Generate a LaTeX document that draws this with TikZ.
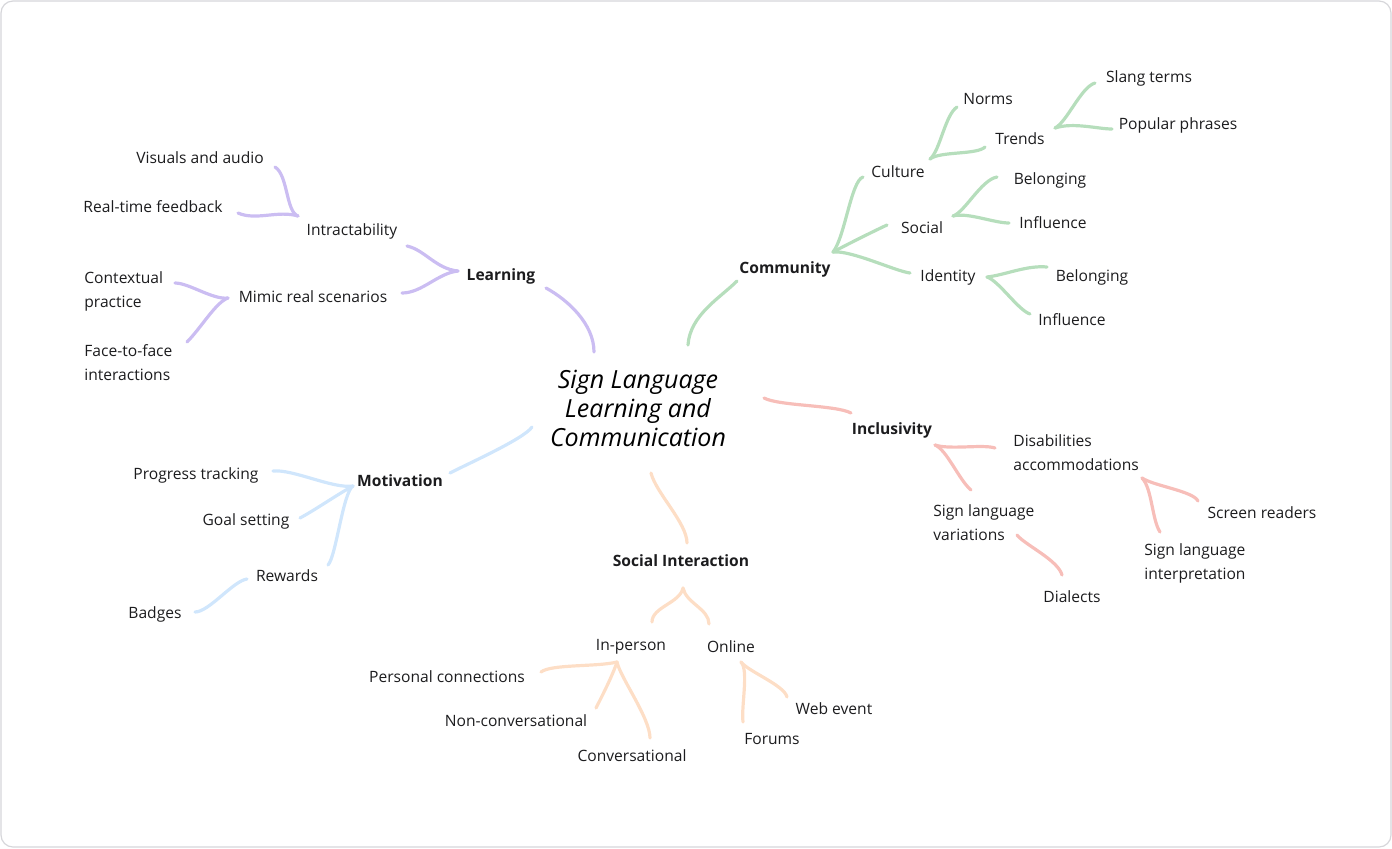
\documentclass[tikz,border=0pt]{standalone}
\usepackage{fontspec}
\setmainfont{Open Sans}
\definecolor{inkblack}{RGB}{28, 28, 30}
\definecolor{framegray}{RGB}{214, 214, 218}
\definecolor{lrnpurple}{RGB}{203, 189, 242}
\definecolor{comgreen}{RGB}{182, 222, 188}
\definecolor{incpink}{RGB}{247, 190, 185}
\definecolor{motblue}{RGB}{208, 230, 252}
\definecolor{socpeach}{RGB}{253, 222, 198}

\begin{document}
\begin{tikzpicture}[x=0.5pt, y=-0.5pt,
                leaf/.style={inner sep=0pt, text=inkblack, yshift=-1.3pt,
                font=\fontsize{7.8}{12}\selectfont},
                topic/.style={leaf, font=\fontsize{7.8}{12}\selectfont\bfseries},
                multi/.style={leaf, align=left, anchor=west},
                branch/.style={line width=1.6pt, line cap=round},
                lrn/.style={branch, draw=lrnpurple},
                com/.style={branch, draw=comgreen},
                inc/.style={branch, draw=incpink},
                mot/.style={branch, draw=motblue},
                soc/.style={branch, draw=socpeach}]
                \useasboundingbox (0,0) rectangle (1392,848);
                \draw[framegray, line width=0.6pt, rounded corners=6pt]
                    (1,1) rectangle (1391,847);
                % centre
                \node[leaf, align=center, text=black,
                      font=\fontsize{12.5}{14.5}\selectfont\itshape] (root) at (638,406)
                    {Sign Language\\Learning and\\Communication};
                % Learning
                \node[topic] (learn) at (501,274) {Learning};
                \node[leaf] (intra) at (352,229) {Intractability};
                \node[leaf] (visual) at (200,155) {Visuals and audio};
                \node[leaf] (rtfeed) at (153,204) {Real-time feedback};
                \node[leaf] (mimic) at (313,294) {Mimic real scenarios};
                \node[multi] (context) at (84,289) {Contextual\\practice};
                \node[multi] (facetf) at (84,360) {Face-to-face\\interactions};
                % Community
                \node[topic] (comm) at (785,267) {Community};
                \node[leaf] (culture) at (898,169) {Culture};
                \node[leaf] (norms) at (988,96) {Norms};
                \node[leaf] (trends) at (1020,136) {Trends};
                \node[leaf] (slang) at (1149,76) {Slang terms};
                \node[leaf] (popular) at (1178,123) {Popular phrases};
                \node[leaf] (social) at (922,225) {Social};
                \node[leaf] (belongA) at (1050,178) {Belonging};
                \node[leaf] (inflA) at (1053,220) {Influence};
                \node[leaf] (ident) at (948,275) {Identity};
                \node[leaf] (belongB) at (1092,275) {Belonging};
                \node[leaf] (inflB) at (1072,317) {Influence};
                % Inclusivity
                \node[topic] (incl) at (892,428) {Inclusivity};
                \node[multi] (disab) at (1013,450) {Disabilities\\accommodations};
                \node[multi] (vari) at (933,520) {Sign language\\variations};
                \node[leaf] (dialect) at (1072,594) {Dialects};
                \node[leaf] (screen) at (1262,510) {Screen readers};
                \node[multi] (interp) at (1144,561) {Sign language\\interpretation};
                % Motivation
                \node[topic] (motiv) at (400,478) {Motivation};
                \node[leaf] (progress) at (196,473) {Progress tracking};
                \node[leaf] (goal) at (246,519) {Goal setting};
                \node[leaf] (reward) at (287,573) {Rewards};
                \node[leaf] (badge) at (155,612) {Badges};
                % Social Interaction
                \node[topic] (socint) at (681,558) {Social Interaction};
                \node[leaf] (inperson) at (631,644) {In-person};
                \node[leaf] (online) at (731,644) {Online};
                \node[leaf] (personal) at (447,674) {Personal connections};
                \node[leaf] (noncon) at (516,718) {Non-conversational};
                \node[leaf] (conver) at (632,753) {Conversational};
                \node[leaf] (webev) at (834,706) {Web event};
                \node[leaf] (forum) at (772,736) {Forums};

                % branch points and free ends
                \coordinate (root-l) at (594,352);  \coordinate (learn-in) at (546,288);
                \coordinate (learn-f) at (458,271);
                \coordinate (intra-e) at (407,246); \coordinate (mimic-e) at (402,293);
                \coordinate (intra-f) at (298,216);
                \coordinate (visual-e) at (275,167); \coordinate (rtfeed-e) at (238,213);
                \coordinate (mimic-f) at (228,298);
                \coordinate (context-e) at (175,283); \coordinate (facetf-e) at (187,342);
                \coordinate (root-c) at (688,345);  \coordinate (comm-in) at (737,281);
                \coordinate (comm-f) at (833,252);
                \coordinate (culture-e) at (863,177); \coordinate (social-e) at (887,225);
                \coordinate (ident-e) at (910,273);
                \coordinate (culture-f) at (930,159);
                \coordinate (norms-e) at (957,107); \coordinate (trends-e) at (985,147);
                \coordinate (trends-f) at (1055,128);
                \coordinate (slang-e) at (1095,83); \coordinate (popular-e) at (1112,129);
                \coordinate (social-f) at (953,216);
                \coordinate (belongA-e) at (997,177); \coordinate (inflA-e) at (1009,223);
                \coordinate (ident-f) at (987,277);
                \coordinate (belongB-e) at (1047,267); \coordinate (inflB-e) at (1030,314);
                \coordinate (root-i) at (764,398);  \coordinate (incl-in) at (851,413);
                \coordinate (incl-f) at (935,445);
                \coordinate (disab-e) at (995,448); \coordinate (vari-e) at (971,490);
                \coordinate (disab-f) at (1142,478);
                \coordinate (screen-e) at (1198,501); \coordinate (interp-e) at (1160,532);
                \coordinate (vari-f) at (1017,535); \coordinate (dialect-e) at (1062,575);
                \coordinate (root-m) at (532,427);  \coordinate (motiv-in) at (450,473);
                \coordinate (motiv-f) at (353,486);
                \coordinate (progress-e) at (273,471); \coordinate (goal-e) at (300,518);
                \coordinate (reward-e) at (328,565);
                \coordinate (reward-f) at (247,579); \coordinate (badge-e) at (195,612);
                \coordinate (root-s) at (651,473);  \coordinate (socint-in) at (687,543);
                \coordinate (socint-f) at (683,588);
                \coordinate (inperson-e) at (652,622); \coordinate (online-e) at (709,624);
                \coordinate (inperson-f) at (617,662);
                \coordinate (personal-e) at (541,672); \coordinate (noncon-e) at (596,708);
                \coordinate (conver-e) at (650,738);
                \coordinate (online-f) at (741,662);
                \coordinate (webev-e) at (787,697); \coordinate (forum-e) at (743,722);

                % Learning branch
                \draw[lrn] (root-l) .. controls +(0,-28) and +(22,12) .. (learn-in);
                \draw[lrn] (learn-f) .. controls +(-22,-2) and +(18,4) .. (intra-e);
                \draw[lrn] (learn-f) .. controls +(-20,2) and +(20,0) .. (mimic-e);
                \draw[lrn] (intra-f) .. controls +(-12,-4) and +(13,8) .. (visual-e);
                \draw[lrn] (intra-f) .. controls +(-20,-6) and +(18,8) .. (rtfeed-e);
                \draw[lrn] (mimic-f) .. controls +(-15,2) and +(14,0) .. (context-e);
                \draw[lrn] (mimic-f) .. controls +(-12,4) and +(14,-14) .. (facetf-e);
                % Community branch
                \draw[com] (root-c) .. controls +(2,-30) and +(-17,17) .. (comm-in);
                \draw[com] (comm-f) .. controls +(12,-15) and +(-12,4) .. (culture-e);
                \draw[com] (comm-f) .. controls +(15,-8) and +(-15,7) .. (social-e);
                \draw[com] (comm-f) .. controls +(18,-2) and +(-15,-2) .. (ident-e);
                \draw[com] (culture-f) .. controls +(10,-8) and +(-12,8) .. (norms-e);
                \draw[com] (culture-f) .. controls +(10,-8) and +(-8,8) .. (trends-e);
                \draw[com] (trends-f) .. controls +(12,-6) and +(-14,4) .. (slang-e);
                \draw[com] (trends-f) .. controls +(18,-6) and +(-14,0) .. (popular-e);
                \draw[com] (social-f) .. controls +(12,-4) and +(-16,3) .. (belongA-e);
                \draw[com] (social-f) .. controls +(14,-4) and +(-15,0) .. (inflA-e);
                \draw[com] (ident-f) .. controls +(18,-2) and +(-20,-2) .. (belongB-e);
                \draw[com] (ident-f) .. controls +(12,4) and +(-12,-4) .. (inflB-e);
                % Inclusivity branch
                \draw[inc] (root-i) .. controls +(15,8) and +(-15,-8) .. (incl-in);
                \draw[inc] (incl-f) .. controls +(15,5) and +(-12,-4) .. (disab-e);
                \draw[inc] (incl-f) .. controls +(12,5) and +(-12,-10) .. (vari-e);
                \draw[inc] (disab-f) .. controls +(12,8) and +(-5,-10) .. (screen-e);
                \draw[inc] (disab-f) .. controls +(10,10) and +(-8,-12) .. (interp-e);
                \draw[inc] (vari-f) .. controls +(8,10) and +(-4,-15) .. (dialect-e);
                % Motivation branch
                \draw[mot] (root-m) .. controls +(-8,12) and +(15,-8) .. (motiv-in);
                \draw[mot] (motiv-f) .. controls +(-20,3) and +(20,-2) .. (progress-e);
                \draw[mot] (motiv-f) .. controls +(-15,8) and +(15,-8) .. (goal-e);
                \draw[mot] (motiv-f) .. controls +(-10,6) and +(8,-8) .. (reward-e);
                \draw[mot] (reward-f) .. controls +(-14,2) and +(14,0) .. (badge-e);
                % Social Interaction branch
                \draw[soc] (root-s) .. controls +(5,20) and +(0,-20) .. (socint-in);
                \draw[soc] (socint-f) .. controls +(-3,15) and +(0,-15) .. (inperson-e);
                \draw[soc] (socint-f) .. controls +(3,15) and +(0,-15) .. (online-e);
                \draw[soc] (inperson-f) .. controls +(-20,5) and +(10,-8) .. (personal-e);
                \draw[soc] (inperson-f) .. controls +(-5,15) and +(5,-10) .. (noncon-e);
                \draw[soc] (inperson-f) .. controls +(3,15) and +(0,-20) .. (conver-e);
                \draw[soc] (online-f) .. controls +(8,10) and +(-3,-12) .. (webev-e);
                \draw[soc] (online-f) .. controls +(8,8) and +(-2,-15) .. (forum-e);
            \end{tikzpicture}
\end{document}
